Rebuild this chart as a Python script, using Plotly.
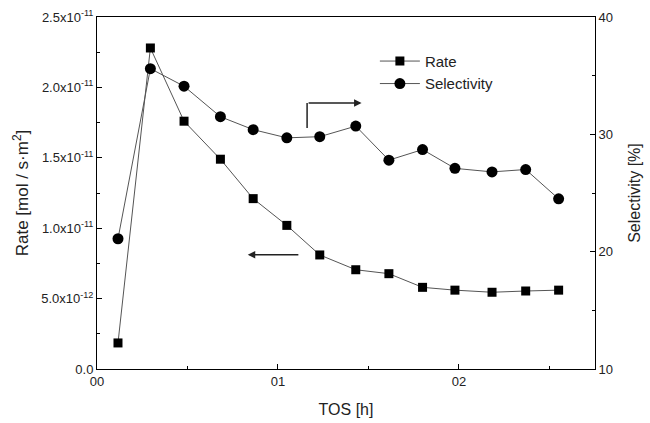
import plotly.graph_objects as go

tos_h = [0.116, 0.295, 0.481, 0.682, 0.863, 1.049, 1.231, 1.430, 1.613, 1.799, 1.978, 2.183, 2.369, 2.551]
rate = [1.85e-12, 2.28e-11, 1.76e-11, 1.49e-11, 1.21e-11, 1.02e-11, 8.1e-12, 7.05e-12,
        6.77e-12, 5.8e-12, 5.6e-12, 5.45e-12, 5.54e-12, 5.6e-12]
selectivity = [21.1, 35.6, 34.1, 31.5, 30.4, 29.7, 29.8, 30.7, 27.8, 28.7, 27.1, 26.8, 27.0, 24.5]

x_tickvals = [0, 1, 2]
x_ticktext = ["00", "01", "02"]
y_tickvals = [0, 5e-12, 1e-11, 1.5e-11, 2e-11, 2.5e-11]
y_ticktext = ["0.0", "5.0x10<sup>-12</sup>", "1.0x10<sup>-11</sup>", "1.5x10<sup>-11</sup>",
              "2.0x10<sup>-11</sup>", "2.5x10<sup>-11</sup>"]
y2_tickvals = [10, 20, 30, 40]

FONT = "Liberation Sans, Arial, sans-serif"
LINE = "#555555"

fig = go.Figure()
fig.add_trace(go.Scatter(
    x=tos_h, y=rate, name="Rate", mode="lines+markers",
    line=dict(color=LINE, width=1),
    marker=dict(symbol="square", size=9, color="black"),
    yaxis="y"))
fig.add_trace(go.Scatter(
    x=tos_h, y=selectivity, name="Selectivity", mode="lines+markers",
    line=dict(color=LINE, width=1),
    marker=dict(symbol="circle", size=11, color="black"),
    yaxis="y2"))

axis_common = dict(showgrid=False, zeroline=False, showline=True, linecolor="black", linewidth=1,
                   ticks="inside", tickcolor="black", ticklen=5, automargin=False,
                   tickfont=dict(family=FONT, size=13, color="#222"))

fig.update_layout(
    width=650, height=423,
    margin=dict(l=97, r=55, t=17, b=54),
    paper_bgcolor="white", plot_bgcolor="white",
    font=dict(family=FONT, color="#222"),
    showlegend=True,
    legend=dict(x=0.558, y=0.921, xanchor="left", yanchor="top",
                bgcolor="rgba(0,0,0,0)", font=dict(family=FONT, size=15, color="#222"),
                itemwidth=40, tracegroupgap=0),
    xaxis=dict(range=[0, 2.752], tickvals=x_tickvals, ticktext=x_ticktext, mirror=True,
               title=dict(text="TOS [h]", font=dict(family=FONT, size=16, color="#222"), standoff=16),
               minor=dict(dtick=0.5, tick0=0, ticks="inside", ticklen=3, tickcolor="black"),
               **axis_common),
    yaxis=dict(range=[0, 2.5e-11], tickvals=y_tickvals, ticktext=y_ticktext,
               title=dict(text="Rate [mol / s·m<sup>2</sup>]", font=dict(family=FONT, size=17, color="#222"), standoff=8),
               minor=dict(dtick=2.5e-12, tick0=0, ticks="inside", ticklen=3, tickcolor="black"),
               **axis_common),
    yaxis2=dict(range=[10, 40], tickvals=y2_tickvals, overlaying="y", side="right",
                title=dict(text="Selectivity [%]", font=dict(family=FONT, size=16, color="#222"), standoff=16),
                minor=dict(dtick=5, tick0=10, ticks="inside", ticklen=3, tickcolor="black"),
                **axis_common),
)

# left-pointing arrow (Rate refers to left axis)
fig.add_annotation(x=0.833, y=8.12e-12, ax=1.121, ay=8.12e-12, xref="x", yref="y",
                   axref="x", ayref="y", text="", showarrow=True,
                   arrowhead=2, arrowsize=1, arrowwidth=1.5, arrowcolor="#222")
# right-pointing arrow (Selectivity refers to right axis)
fig.add_shape(type="line", x0=1.161, x1=1.161, y0=30.55, y1=32.68, xref="x", yref="y2",
              line=dict(color="#222", width=1.5))
fig.add_annotation(x=1.462, y=32.68, ax=1.161, ay=32.68, xref="x", yref="y2",
                   axref="x", ayref="y2", text="", showarrow=True,
                   arrowhead=2, arrowsize=1, arrowwidth=1.5, arrowcolor="#222")

fig.write_html("out.html")
